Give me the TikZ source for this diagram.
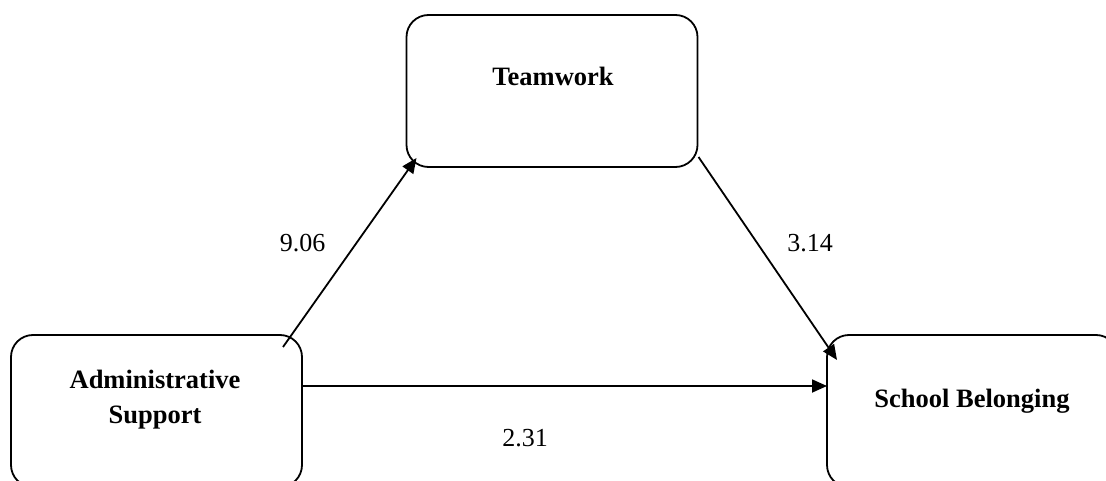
\documentclass[tikz,border=0pt]{standalone}
\usepackage{fontspec}
\setmainfont{Liberation Serif}
\usetikzlibrary{arrows.meta,calc}

\begin{document}
\begin{tikzpicture}[x=1pt,y=-1pt,
  every node/.style={inner sep=0pt,outer sep=0pt},
  box/.style={draw,line width=1.8pt,rounded corners=22pt,
    minimum width=291pt,minimum height=152pt},
  boxtext/.style={font=\fontsize{26.5}{35}\selectfont\bfseries,align=center,anchor=base},
  coef/.style={font=\fontsize{26}{30}\selectfont},
  path/.style={line width=1.8pt,-{Triangle[length=15pt,width=13pt]}}]
  \useasboundingbox (0,0) rectangle (1106,481);

  % constructs
  \node[box] (tw)  at (552,91)    {};
  \node[box] (adm) at (156.5,411) {};
  \node[box] (sb)  at (972.5,411) {};

  \node[boxtext] (twl)  at (553,86)  {Teamwork};
  \node[boxtext] (adml) at (155,423) {Administrative\\Support};
  \node[boxtext] (sbl)  at (972,407) {School Belonging};

  % paths
  \draw[path] ($(adm.north east)+(-19,12)$) -- ($(tw.south west)+(10,-9)$);
  \draw[path] ($(tw.south east)+(1,-10)$) -- ($(sb.north west)+(10,25)$);
  \draw[path] ($(adm.east)+(0,-25)$) -- ($(sb.west)+(0,-25)$);

  % coefficients
  \node[coef] (a) at (302.5,243) {9.06};
  \node[coef] (b) at (810,243)   {3.14};
  \node[coef] (c) at (525,438)   {2.31};
\end{tikzpicture}
\end{document}
